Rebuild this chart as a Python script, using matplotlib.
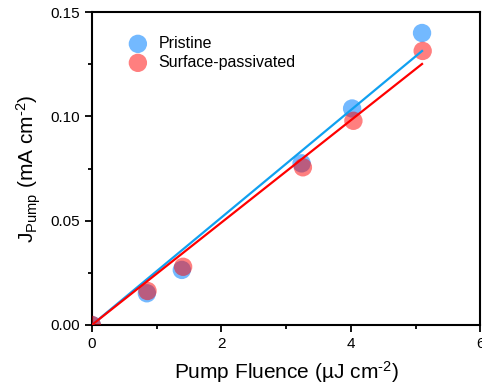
import numpy as np
import matplotlib
matplotlib.use('Agg')
import matplotlib.pyplot as plt
from matplotlib.ticker import MultipleLocator

plt.rcParams['font.family'] = ['Liberation Sans', 'DejaVu Sans']
plt.rcParams['mathtext.fontset'] = 'custom'
plt.rcParams['mathtext.rm'] = 'Liberation Sans'
plt.rcParams['mathtext.it'] = 'Liberation Sans:italic'

# data
fluence_pristine = [0.0, 0.85, 1.39, 3.24, 4.02, 5.10]
jpump_pristine = [0.0, 0.0152, 0.0264, 0.0775, 0.1038, 0.140]
fluence_passiv = [0.0, 0.86, 1.41, 3.26, 4.04, 5.11]
jpump_passiv = [0.0, 0.0163, 0.0279, 0.0756, 0.0979, 0.1314]

# linear fits through origin (slope, end of line)
fit_slope_pristine = 0.02576
fit_slope_passiv = 0.02454
fit_xmax = 5.10

fig = plt.figure(figsize=(4.82, 3.92), dpi=100)
ax = fig.add_axes([0.1905, 0.171, 0.806, 0.798])

ax.scatter(fluence_pristine, jpump_pristine, s=175, color='#0080FF', alpha=0.55,
           edgecolors='none', label='Pristine', zorder=2)
ax.scatter(fluence_passiv, jpump_passiv, s=175, color='#FF0000', alpha=0.5,
           edgecolors='none', label='Surface-passivated', zorder=3)

xf = np.array([0, fit_xmax])
ax.plot(xf, fit_slope_pristine * xf, color='#10A0F0', lw=1.6, zorder=4)
ax.plot(xf, fit_slope_passiv * xf, color='#FF0000', lw=1.6, zorder=4)

ax.set_xlim(0, 6)
ax.set_ylim(0, 0.15)
ax.xaxis.set_major_locator(MultipleLocator(2))
ax.xaxis.set_minor_locator(MultipleLocator(1))
ax.yaxis.set_major_locator(MultipleLocator(0.05))
ax.yaxis.set_minor_locator(MultipleLocator(0.025))
ax.yaxis.set_major_formatter(matplotlib.ticker.FormatStrFormatter('%.2f'))
ax.tick_params(which='major', direction='out', length=5, width=1.3, labelsize=11,
               top=False, right=False)
ax.tick_params(which='minor', direction='out', length=3, width=1.3,
               top=False, right=False)
for sp in ax.spines.values():
    sp.set_linewidth(1.5)

ax.set_xlabel(r'Pump Fluence (µJ cm$^{\text{-2}}$)', fontsize=15, labelpad=6)
ax.set_ylabel(r'J$_{\mathrm{Pump}}$ (mA cm$^{\text{-2}}$)', fontsize=15, labelpad=5)

ax.legend(loc='upper left', frameon=False, fontsize=11.5, handletextpad=0.3,
          labelspacing=0.25, borderaxespad=0.9, bbox_to_anchor=(0.024, 0.99),
          scatterpoints=1)

fig.savefig('out.png', dpi=100)
